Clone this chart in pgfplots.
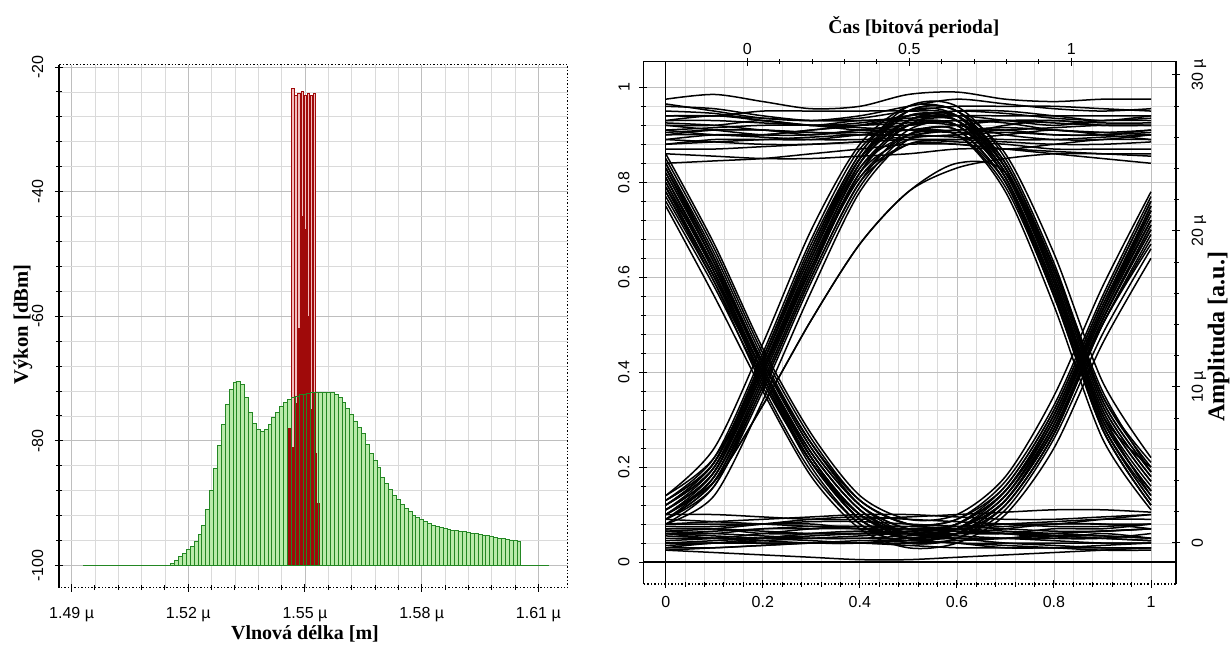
\documentclass[border=0pt]{standalone}
\usepackage{fontspec}
\setmainfont{Liberation Serif}
\newfontfamily\arial{Liberation Sans}
\usepackage{pgfplots}
\usepackage{pgfplotstable}
\pgfplotsset{compat=1.18}

\definecolor{grn}{RGB}{186,234,170}
\definecolor{grnline}{RGB}{35,135,35}
\definecolor{dred}{RGB}{160,10,10}
\definecolor{pinkf}{RGB}{240,190,190}
\definecolor{gridc}{RGB}{218,218,218}
\definecolor{gridm}{RGB}{190,190,190}

% ---------- spectrum ----------
\pgfplotstableread{
x y
1.516 -99.7
1.517 -99.2
1.518 -98.6
1.519 -98.0
1.520 -97.5
1.521 -96.9
1.522 -96.1
1.523 -95.0
1.524 -93.5
1.525 -91.0
1.526 -88.0
1.527 -84.5
1.528 -80.8
1.529 -77.3
1.530 -74.1
1.531 -71.8
1.532 -70.7
1.533 -70.4
1.534 -71.0
1.535 -73.0
1.536 -75.5
1.537 -77.2
1.538 -78.2
1.539 -78.5
1.540 -78.2
1.541 -77.3
1.542 -76.3
1.543 -75.4
1.544 -74.5
1.545 -73.8
1.546 -73.4
1.547 -73.1
1.548 -72.8
1.549 -72.6
1.550 -72.5
1.551 -72.4
1.552 -72.3
1.553 -72.3
1.554 -72.2
1.555 -72.2
1.556 -72.2
1.557 -72.3
1.558 -72.5
1.559 -73.0
1.560 -73.8
1.561 -74.8
1.562 -75.8
1.563 -76.8
1.564 -77.8
1.565 -78.8
1.566 -80.5
1.567 -82.0
1.568 -83.2
1.569 -84.3
1.570 -85.8
1.571 -86.8
1.572 -87.8
1.573 -88.7
1.574 -89.4
1.575 -90.2
1.576 -90.9
1.577 -91.4
1.578 -91.9
1.579 -92.3
1.580 -92.6
1.581 -92.9
1.582 -93.2
1.583 -93.5
1.584 -93.7
1.585 -93.9
1.586 -94.0
1.587 -94.2
1.588 -94.3
1.589 -94.4
1.590 -94.5
1.591 -94.6
1.592 -94.7
1.593 -94.8
1.594 -94.9
1.595 -95.0
1.596 -95.1
1.597 -95.2
1.598 -95.3
1.599 -95.5
1.600 -95.6
1.601 -95.7
1.602 -95.8
1.603 -95.9
1.604 -96.0
1.605 -96.1
}\green

\pgfplotstableread{
x y
1.5469 -23.4
1.5477 -24.5
1.5485 -24.3
1.5493 -24.0
1.5501 -24.6
1.5509 -24.2
1.5517 -24.5
1.5525 -24.3
}\redtall

\pgfplotstableread{
x y
1.5461 -78
1.5469 -81
1.5477 -74
1.5485 -62
1.5493 -44
1.5501 -46
1.5509 -60
1.5517 -75
1.5525 -82
1.5533 -90
}\reddark

% ---------- eye diagram traces ----------
\pgfplotstableread{
x c1 c2 c3 c4 c5 c6 c7 c8 c9 c10 c11 c12 c13 c14 c15 c16
0 0.11 0.09 0.13 0.10 0.14 0.12 0.08 0.11 0.10 0.12 0.09 0.13 0.10 0.11 0.14 0.08
0.1 0.19 0.17 0.21 0.18 0.22 0.20 0.16 0.20 0.17 0.21 0.16 0.22 0.18 0.19 0.24 0.14
0.2 0.40 0.38 0.42 0.39 0.41 0.41 0.37 0.42 0.33 0.43 0.36 0.44 0.38 0.40 0.46 0.34
0.3 0.63 0.61 0.65 0.62 0.62 0.64 0.60 0.66 0.51 0.67 0.59 0.68 0.61 0.64 0.70 0.57
0.4 0.83 0.82 0.85 0.84 0.81 0.84 0.80 0.86 0.67 0.86 0.79 0.87 0.82 0.85 0.88 0.78
0.5 0.92 0.93 0.94 0.95 0.90 0.93 0.91 0.95 0.78 0.96 0.90 0.94 0.92 0.95 0.96 0.89
0.6 0.92 0.93 0.93 0.95 0.90 0.94 0.92 0.94 0.84 0.96 0.91 0.93 0.94 0.95 0.95 0.90
0.7 0.81 0.83 0.82 0.84 0.79 0.83 0.81 0.82 0.82 0.85 0.80 0.81 0.84 0.83 0.86 0.78
0.8 0.58 0.60 0.59 0.62 0.56 0.61 0.57 0.60 0.62 0.63 0.56 0.57 0.62 0.59 0.65 0.54
0.9 0.30 0.32 0.31 0.34 0.28 0.33 0.29 0.31 0.36 0.35 0.28 0.29 0.35 0.30 0.38 0.26
1 0.15 0.17 0.14 0.19 0.12 0.18 0.13 0.16 0.19 0.20 0.12 0.14 0.21 0.15 0.22 0.11
}\famC

\pgfplotstableread{
x d1 d2 d3 d4 d5 d6 d7 d8 d9 d10 d11 d12 d13 d14 d15
0 0.80 0.83 0.77 0.84 0.79 0.81 0.76 0.82 0.78 0.85 0.81 0.79 0.83 0.86 0.75
0.1 0.61 0.63 0.59 0.64 0.60 0.62 0.58 0.63 0.59 0.66 0.61 0.62 0.64 0.67 0.56
0.2 0.40 0.41 0.39 0.42 0.39 0.40 0.38 0.42 0.37 0.44 0.38 0.42 0.41 0.45 0.36
0.3 0.22 0.23 0.21 0.24 0.20 0.23 0.21 0.25 0.19 0.26 0.21 0.25 0.22 0.27 0.18
0.4 0.10 0.11 0.09 0.12 0.08 0.11 0.10 0.13 0.08 0.13 0.10 0.12 0.09 0.14 0.07
0.5 0.06 0.05 0.05 0.07 0.04 0.06 0.06 0.08 0.04 0.08 0.05 0.06 0.05 0.09 0.03
0.6 0.07 0.06 0.08 0.08 0.05 0.07 0.07 0.09 0.05 0.09 0.06 0.06 0.07 0.10 0.04
0.7 0.14 0.13 0.15 0.15 0.12 0.14 0.13 0.16 0.11 0.17 0.13 0.12 0.15 0.18 0.10
0.8 0.29 0.28 0.31 0.30 0.27 0.30 0.28 0.32 0.26 0.33 0.29 0.27 0.31 0.35 0.24
0.9 0.52 0.51 0.54 0.53 0.50 0.53 0.50 0.55 0.48 0.56 0.53 0.51 0.53 0.58 0.46
1 0.72 0.70 0.74 0.75 0.69 0.73 0.68 0.76 0.66 0.77 0.74 0.71 0.72 0.78 0.64
}\famD

\pgfplotstableread{
x e1 e2 e3 e4 e5 e6 e7 e8
0 0.11 0.09 0.13 0.10 0.12 0.10 0.12 0.09
0.1 0.19 0.18 0.21 0.19 0.20 0.17 0.21 0.17
0.2 0.40 0.39 0.42 0.41 0.40 0.33 0.43 0.37
0.3 0.63 0.62 0.65 0.64 0.62 0.51 0.66 0.60
0.4 0.83 0.82 0.85 0.84 0.81 0.67 0.85 0.80
0.5 0.90 0.89 0.92 0.93 0.88 0.78 0.93 0.88
0.6 0.91 0.90 0.92 0.95 0.88 0.83 0.94 0.89
0.7 0.91 0.92 0.90 0.95 0.87 0.85 0.93 0.90
0.8 0.90 0.93 0.89 0.94 0.88 0.86 0.92 0.91
0.9 0.90 0.92 0.89 0.93 0.89 0.86 0.93 0.90
1 0.91 0.92 0.90 0.94 0.89 0.86 0.93 0.89
}\famE

\pgfplotstableread{
x f1 f2 f3 f4 f5 f6 f7
0 0.80 0.82 0.78 0.83 0.79 0.81 0.84
0.1 0.61 0.63 0.60 0.64 0.60 0.62 0.65
0.2 0.40 0.41 0.39 0.42 0.40 0.40 0.43
0.3 0.22 0.23 0.21 0.24 0.22 0.21 0.25
0.4 0.10 0.11 0.09 0.12 0.10 0.09 0.13
0.5 0.06 0.06 0.05 0.07 0.05 0.05 0.08
0.6 0.05 0.06 0.04 0.07 0.04 0.06 0.07
0.7 0.05 0.06 0.04 0.08 0.03 0.07 0.06
0.8 0.05 0.07 0.04 0.08 0.03 0.08 0.05
0.9 0.06 0.07 0.04 0.09 0.03 0.08 0.05
1 0.05 0.08 0.04 0.10 0.03 0.07 0.06
}\famF

\pgfplotstableread{
x g1 g2 g3 g4 g5 g6 g7
0 0.90 0.92 0.88 0.94 0.89 0.91 0.93
0.1 0.91 0.92 0.89 0.94 0.90 0.90 0.94
0.2 0.91 0.93 0.89 0.95 0.90 0.90 0.93
0.3 0.90 0.92 0.89 0.95 0.91 0.91 0.92
0.4 0.91 0.93 0.90 0.95 0.92 0.92 0.91
0.5 0.92 0.93 0.91 0.95 0.93 0.94 0.91
0.6 0.92 0.93 0.91 0.94 0.92 0.94 0.90
0.7 0.81 0.83 0.80 0.83 0.82 0.84 0.80
0.8 0.58 0.60 0.57 0.61 0.59 0.62 0.57
0.9 0.30 0.32 0.29 0.33 0.31 0.34 0.28
1 0.15 0.17 0.13 0.18 0.20 0.19 0.12
}\famG

\pgfplotstableread{
x h1 h2 h3 h4 h5 h6 h7
0 0.05 0.06 0.04 0.08 0.03 0.06 0.07
0.1 0.05 0.06 0.04 0.08 0.04 0.05 0.07
0.2 0.05 0.07 0.04 0.08 0.04 0.05 0.06
0.3 0.05 0.07 0.04 0.08 0.04 0.06 0.06
0.4 0.05 0.07 0.04 0.07 0.04 0.06 0.06
0.5 0.05 0.06 0.04 0.07 0.05 0.06 0.06
0.6 0.07 0.08 0.06 0.08 0.06 0.07 0.08
0.7 0.14 0.15 0.13 0.15 0.12 0.13 0.16
0.8 0.29 0.30 0.28 0.31 0.27 0.28 0.32
0.9 0.52 0.53 0.51 0.54 0.50 0.51 0.55
1 0.72 0.74 0.70 0.75 0.67 0.71 0.76
}\famH

\pgfplotstableread{
x a1 a2 a3 a4 a5 a6 a7 a8 a9 a10 a11 a12 a13 a14 a15 a16
0 0.975 0.96 0.93 0.91 0.90 0.89 0.87 0.86 0.84 0.92 0.95 0.94 0.965 0.88 0.925 0.905
0.1 0.985 0.955 0.93 0.915 0.90 0.885 0.87 0.855 0.845 0.91 0.945 0.94 0.95 0.885 0.92 0.91
0.2 0.97 0.94 0.925 0.92 0.895 0.88 0.875 0.85 0.85 0.90 0.93 0.935 0.935 0.89 0.91 0.91
0.3 0.955 0.93 0.92 0.92 0.89 0.88 0.88 0.85 0.86 0.90 0.92 0.93 0.93 0.895 0.905 0.905
0.4 0.96 0.935 0.92 0.915 0.89 0.885 0.885 0.855 0.87 0.91 0.925 0.93 0.94 0.90 0.905 0.90
0.5 0.985 0.95 0.925 0.91 0.895 0.89 0.89 0.86 0.88 0.92 0.94 0.935 0.96 0.90 0.91 0.90
0.6 0.99 0.96 0.93 0.905 0.90 0.89 0.885 0.87 0.88 0.93 0.95 0.94 0.975 0.895 0.92 0.91
0.7 0.975 0.96 0.93 0.91 0.905 0.885 0.88 0.87 0.87 0.925 0.945 0.94 0.965 0.89 0.93 0.915
0.8 0.97 0.96 0.925 0.915 0.90 0.88 0.87 0.865 0.86 0.91 0.935 0.94 0.955 0.89 0.93 0.91
0.9 0.975 0.955 0.92 0.92 0.90 0.88 0.87 0.86 0.85 0.905 0.93 0.94 0.95 0.895 0.925 0.905
1 0.975 0.95 0.92 0.92 0.905 0.885 0.87 0.855 0.84 0.91 0.935 0.94 0.955 0.90 0.925 0.90
}\famA

\pgfplotstableread{
x b1 b2 b3 b4 b5 b6 b7 b8 b9 b10 b11 b12 b13 b14 b15 b16 b17
0 0.055 0.04 0.07 0.03 0.08 0.06 0.025 0.045 0.065 0.035 0.075 0.04 0.09 0.06 0.10 0.025 0.065
0.1 0.05 0.04 0.07 0.03 0.085 0.055 0.02 0.05 0.06 0.04 0.075 0.045 0.085 0.065 0.10 0.03 0.07
0.2 0.045 0.045 0.065 0.035 0.09 0.05 0.015 0.06 0.055 0.05 0.08 0.05 0.08 0.07 0.095 0.035 0.08
0.3 0.04 0.05 0.06 0.04 0.095 0.045 0.01 0.07 0.05 0.06 0.085 0.055 0.075 0.075 0.09 0.04 0.09
0.4 0.04 0.055 0.06 0.04 0.10 0.04 0.005 0.075 0.05 0.065 0.085 0.06 0.07 0.075 0.09 0.045 0.095
0.5 0.045 0.06 0.065 0.035 0.10 0.04 0.005 0.075 0.055 0.06 0.08 0.065 0.07 0.07 0.095 0.045 0.09
0.6 0.05 0.055 0.07 0.03 0.095 0.045 0.01 0.07 0.06 0.05 0.075 0.065 0.075 0.065 0.10 0.04 0.085
0.7 0.05 0.05 0.075 0.03 0.09 0.05 0.015 0.065 0.06 0.04 0.07 0.06 0.08 0.06 0.105 0.035 0.08
0.8 0.055 0.045 0.08 0.03 0.09 0.06 0.02 0.06 0.055 0.035 0.065 0.055 0.085 0.06 0.11 0.03 0.075
0.9 0.055 0.04 0.08 0.035 0.095 0.065 0.025 0.055 0.05 0.03 0.065 0.05 0.09 0.065 0.11 0.025 0.075
1 0.05 0.04 0.08 0.04 0.10 0.07 0.03 0.05 0.045 0.03 0.07 0.045 0.09 0.07 0.105 0.025 0.08
}\famB

\pgfplotsset{
  trace/.style={black, line width=0.75pt, smooth, no markers},
  tlab/.style={font=\arial\fontsize{8}{9}\selectfont},
}

\begin{document}
\begin{tikzpicture}
\path[use as bounding box] (0,0) rectangle (616pt,322pt);

% ================= left: spectrum =================
\begin{axis}[
  name=L, at={(29.5pt,28.15pt)}, anchor=south west,
  scale only axis, width=254.3pt, height=261.6pt,
  xmin=1.48676, xmax=1.61751, ymin=-103.56, ymax=-19.6,
  y coord trafo/.code={\pgfmathparse{#1+100}},
  y coord inv trafo/.code={\pgfmathparse{#1-100}},
  xtick={1.49,1.52,1.55,1.58,1.61},
  xticklabels={1.49 µ,1.52 µ,1.55 µ,1.58 µ,1.61 µ},
  ytick={-100,-80,-60,-40,-20},
  yticklabels={-100,-80,-60,-40,-20},
  minor x tick num=4, minor y tick num=4,
  grid=both,
  major grid style={gridm, solid, line width=0.4pt},
  minor grid style={gridc, solid, line width=0.4pt},
  axis line style={black, densely dotted, line width=0.7pt},
  tick pos=left, tick align=center,
  major tick length=4pt, minor tick length=2.5pt,
  tick style={black, solid, line width=0.5pt},
  ticklabel style={tlab},
  yticklabel style={rotate=90, anchor=south},
  yticklabel shift=2.3pt,
  xticklabel shift=4.2pt,
  xlabel={Vlnová délka [m]}, ylabel={Výkon [dBm]},
  every axis x label/.style={at={(rel axis cs:0.4837,-0.0875)}, anchor=center,
     font=\bfseries\fontsize{10}{12}\selectfont},
  every axis y label/.style={at={(rel axis cs:-0.0708,0.503)}, anchor=center, rotate=90,
     font=\bfseries\fontsize{10.3}{12}\selectfont},
]
\addplot[grnline, line width=0.6pt] coordinates {(1.493,-100) (1.5155,-100)};
\addplot[grnline, line width=0.6pt] coordinates {(1.6055,-100) (1.6127,-100)};
\addplot[ybar, bar width=0.001, bar shift=0pt, draw=grnline, line width=0.45pt, fill=grn] table[x=x,y=y] {\green};
\addplot[ybar, bar width=0.0006, bar shift=0pt, draw=dred, line width=0.5pt, fill=pinkf] table[x=x,y=y] {\redtall};
\addplot[ybar, bar width=0.0008, bar shift=0pt, draw=dred, line width=0.4pt, fill=dred] table[x=x,y=y] {\reddark};
\addplot[ybar, bar width=0.001, bar shift=0pt, draw=grnline, line width=0.45pt, fill=none] table[x=x,y=y] {\green};
\end{axis}
\draw[black, line width=0.8pt] (L.south west) -- (L.north west);

% ================= right: eye diagram =================
\begin{axis}[
  name=R, at={(321.65pt,30pt)}, anchor=south west,
  scale only axis, width=266.35pt, height=261.15pt,
  xmin=-0.0462, xmax=1.0515, ymin=-0.0463, ymax=1.054,
  xtick={0,0.2,0.4,0.6,0.8,1}, xticklabels={0,0.2,0.4,0.6,0.8,1},
  ytick={0,0.2,0.4,0.6,0.8,1}, yticklabels={0,0.2,0.4,0.6,0.8,1},
  minor x tick num=4, minor y tick num=4,
  grid=both,
  major grid style={gridm, solid, line width=0.4pt},
  minor grid style={gridc, solid, line width=0.4pt},
  axis line style={black, densely dotted, line width=0.7pt},
  tick pos=left, tick align=center,
  major tick length=4pt, minor tick length=2.5pt,
  tick style={black, solid, line width=0.5pt},
  ticklabel style={tlab},
  yticklabel style={rotate=90, anchor=south},
  yticklabel shift=1.3pt,
  xticklabel shift=0.6pt,
]
\pgfplotsinvokeforeach{a1,a2,a3,a4,a5,a6,a7,a8,a9,a10,a11,a12,a13,a14,a15,a16}{\addplot[trace] table[x=x,y=#1] {\famA};}
\pgfplotsinvokeforeach{b1,b2,b3,b4,b5,b6,b7,b8,b9,b10,b11,b12,b13,b14,b15,b16,b17}{\addplot[trace] table[x=x,y=#1] {\famB};}
\pgfplotsinvokeforeach{c1,c2,c3,c4,c5,c6,c7,c8,c9,c10,c11,c12,c13,c14,c15,c16}{\addplot[trace] table[x=x,y=#1] {\famC};}
\pgfplotsinvokeforeach{d1,d2,d3,d4,d5,d6,d7,d8,d9,d10,d11,d12,d13,d14,d15}{\addplot[trace] table[x=x,y=#1] {\famD};}
\pgfplotsinvokeforeach{e1,e2,e3,e4,e5,e6,e7,e8}{\addplot[trace] table[x=x,y=#1] {\famE};}
\pgfplotsinvokeforeach{f1,f2,f3,f4,f5,f6,f7}{\addplot[trace] table[x=x,y=#1] {\famF};}
\pgfplotsinvokeforeach{g1,g2,g3,g4,g5,g6,g7}{\addplot[trace] table[x=x,y=#1] {\famG};}
\pgfplotsinvokeforeach{h1,h2,h3,h4,h5,h6,h7}{\addplot[trace] table[x=x,y=#1] {\famH};}
\draw[black, line width=0.6pt] (axis cs:0,-0.0463) -- (axis cs:0,1.054);
\draw[black, line width=0.6pt] (axis cs:-0.0462,0) -- (axis cs:1.0515,0);
\end{axis}
\draw[black, line width=0.7pt] (R.south west) -- (R.north west);

\begin{axis}[
  at={(321.65pt,30pt)}, anchor=south west,
  scale only axis, width=266.35pt, height=261.15pt,
  axis x line*=top, axis y line*=right,
  xmin=-0.321, xmax=1.323, ymin=-2.63, ymax=30.85,
  xtick={0,0.5,1}, xticklabels={0,0.5,1},
  ytick={0,10,20,30}, yticklabels={0,10 µ,20 µ,30 µ},
  minor x tick num=4, minor y tick num=4,
  axis line style={black, line width=0.6pt},
  tick align=center,
  major tick length=4pt, minor tick length=2.5pt,
  tick style={black, line width=0.5pt},
  ticklabel style={tlab},
  xticklabel shift=-2pt,
  yticklabel style={rotate=90, anchor=north},
  yticklabel shift=2.3pt,
  xlabel={Čas [bitová perioda]}, ylabel={Amplituda [a.u.]},
  every axis x label/.style={at={(rel axis cs:0.508,1.066)}, anchor=center,
     font=\bfseries\fontsize{9.8}{12}\selectfont},
  every axis y label/.style={at={(rel axis cs:1.08,0.473)}, anchor=center, rotate=90,
     font=\bfseries\fontsize{12}{14}\selectfont},
]
\addplot[draw=none] coordinates {(0,0)};
\end{axis}
\end{tikzpicture}
\end{document}
